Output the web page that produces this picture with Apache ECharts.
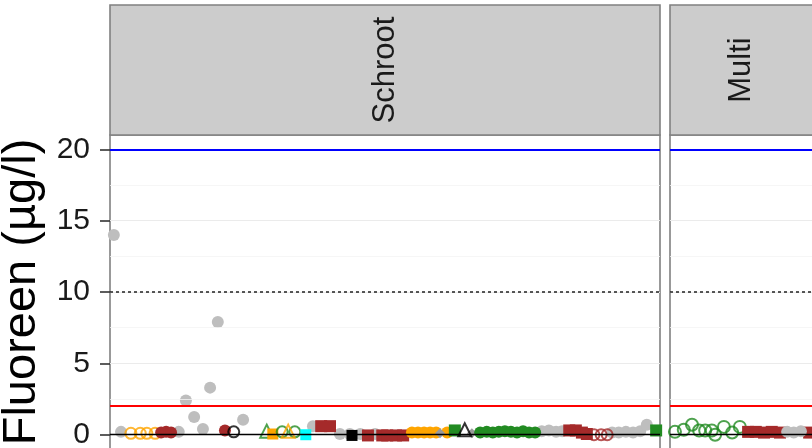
<!DOCTYPE html>
<html>
<head>
<meta charset="utf-8">
<script src="https://cdn.jsdelivr.net/npm/echarts@6.0.0/dist/echarts.min.js"></script>
<style>
  html, body { margin: 0; padding: 0; background: #fff; overflow: hidden; }
  #chart { width: 812px; height: 448px; }
</style>
</head>
<body>
<div id="chart"></div>
<script>
// facets
const facets = ['Schroot', 'Multi']
const yTicks = [0, 5, 10, 15, 20]
const minorGrid = [2.5, 7.5, 12.5, 17.5]
// reference lines (µg/l)
const zeroLine = 0
const lowLimit = 2
const midLimit = 10
const highLimit = 20

// Schroot: [position, value]
const greyDots = [[0.7,14.0],[2.0,0.2],[12.5,0.2],[13.8,2.4],[15.3,1.25],[16.9,0.4],[18.2,3.3],[19.6,7.9],[24.2,1.05],
  [36.9,0.6],[41.8,0.05],[43.6,0.05],[45.5,0.05],[48.2,0.05],[78.5,0.25],[79.8,0.3],[81.1,0.2],[82.2,0.25],
  [91.3,0.15],[92.5,0.15],[93.8,0.2],[95.1,0.15],[96.4,0.25],[97.6,0.7]]
const orangeRings = [[3.8,0.1],[5.5,0.1],[6.7,0.1],[8.2,0.1]]
const brownDots = [[9.3,0.15],[10.2,0.2],[11.1,0.15],[20.9,0.3]]
const blackRings = [[22.5,0.2]]
const greenOpenTri = [[28.5,0.25]]
const orangeSquares = [[29.6,0.05]]
const greenRings = [[31.3,0.2],[33.6,0.2]]
const orangeOpenTri = [[32.4,0.25]]
const cyanSquares = [[35.6,0.0]]
const brownSquares = [[38.4,0.6],[40.0,0.6],[46.9,-0.05],[49.5,-0.05],[50.4,-0.05],[52.0,-0.05],[53.3,-0.05],
  [83.5,0.3],[84.7,0.3],[85.8,0.15],[86.7,0.05]]
const blackSquares = [[44.0,-0.05]]
const orangeDots = [[54.9,0.15],[56.0,0.15],[57.1,0.15],[58.2,0.15],[59.3,0.15],[61.3,0.15]]
const greyDiamonds = [[60.0,0.1],[65.8,0.1]]
const greenSquares = [[62.7,0.3],[99.3,0.3]]
const blackOpenTri = [[64.5,0.35]]
const greenDots = [[67.3,0.15],[68.5,0.2],[69.6,0.15],[70.7,0.2],[71.8,0.25],[72.9,0.2],[74.0,0.15],[75.1,0.25],[76.2,0.15],[77.3,0.15]]
const brownRings = [[88.0,0.0],[89.3,0.0],[90.4,0.0]]

// Multi
const greenRingsM = [[0.9,0.2],[2.5,0.35],[4.0,0.7],[5.3,0.3],[6.4,0.3],[7.6,0.3],[8.2,0.0],[9.8,0.55],[11.3,0.15],[12.7,0.55]]
const brownSquaresM = [[14.2,0.2],[15.6,0.2],[17.1,0.15],[18.5,0.2],[20.0,0.15],[25.3,0.15]]
const greyDotsM = [[21.3,0.2],[22.5,0.15],[23.8,0.25]]

const FONT = 'Liberation Sans'
const GREY = '#BEBEBE', BROWN = '#A52A2A', GREEN = '#228B22', ORANGE = '#FFA500'

function pts(data, symbol, color, open, size, idx) {
  return {
    type: 'scatter', xAxisIndex: idx, yAxisIndex: idx, data: data,
    symbol: symbol, symbolSize: size, z: 3, silent: true,
    itemStyle: open ? { color: 'rgba(0,0,0,0)', borderColor: color, borderWidth: 2 } : { color: color, opacity: 1 }
  }
}

function guides(idx) {
  // background grid lines (under points)
  const bg = {
    type: 'line', xAxisIndex: idx, yAxisIndex: idx, data: [], z: 1, silent: true,
    markLine: {
      symbol: 'none', silent: true, label: { show: false },
      data: yTicks.map(v => ({ yAxis: v, lineStyle: { color: '#EBEBEB', width: 1.2, type: 'solid' } }))
        .concat(minorGrid.map(v => ({ yAxis: v, lineStyle: { color: '#F4F4F4', width: 0.8, type: 'solid' } })))
    }
  }
  // limit lines (over points)
  const ref = {
    type: 'line', xAxisIndex: idx, yAxisIndex: idx, data: [], z: 5, silent: true,
    markLine: {
      symbol: 'none', silent: true, label: { show: false },
      data: [
        { yAxis: highLimit, lineStyle: { color: '#0000FF', width: 2, type: 'solid' } },
        { yAxis: midLimit, lineStyle: { color: '#222', width: 1.5, type: [3, 3] } },
        { yAxis: lowLimit, lineStyle: { color: '#FF0000', width: 2, type: 'solid' } },
        { yAxis: zeroLine, lineStyle: { color: '#000', width: 1.3, type: 'solid' } }
      ]
    }
  }
  return [bg, ref]
}

let chart = echarts.init(document.getElementById('chart'), null, { renderer: 'canvas' })
let option = {
  animation: false,
  backgroundColor: '#fff',
  grid: [
    { left: 110, top: 135, width: 550, height: 314, outerBoundsMode: 'none', containLabel: false,
      show: true, backgroundColor: '#fff', borderColor: '#808080', borderWidth: 1.6 },
    { left: 670, top: 135, width: 143, height: 314, outerBoundsMode: 'none', containLabel: false,
      show: true, backgroundColor: '#fff', borderColor: '#808080', borderWidth: 1.6 }
  ],
  xAxis: [
    { gridIndex: 0, type: 'value', min: 0, max: 100, show: false },
    { gridIndex: 1, type: 'value', min: 0, max: 26, show: false }
  ],
  yAxis: [
    {
      gridIndex: 0, type: 'value', min: -1, max: 21,
      name: 'Fluoreen (µg/l)', nameLocation: 'middle', nameRotate: 90, nameGap: 58,
      nameTextStyle: { fontFamily: FONT, fontSize: 47, color: '#000' },
      axisLine: { show: false },
      axisTick: { show: true, length: 10, customValues: yTicks, lineStyle: { color: '#333', width: 1.6 } },
      axisLabel: { customValues: yTicks, margin: 20, fontFamily: FONT, fontSize: 30, color: '#1a1a1a' },
      splitLine: { show: false }
    },
    {
      gridIndex: 1, type: 'value', min: -1, max: 21,
      axisLine: { show: false }, axisTick: { show: false }, axisLabel: { show: false }, splitLine: { show: false }
    }
  ],
  graphic: [
    { type: 'rect', shape: { x: 110, y: 5, width: 550, height: 130 }, style: { fill: '#CCCCCC', stroke: '#808080', lineWidth: 1.6 } },
    { type: 'rect', shape: { x: 670, y: 5, width: 143, height: 130 }, style: { fill: '#CCCCCC', stroke: '#808080', lineWidth: 1.6 } },
    { type: 'text', x: 385, y: 70, rotation: Math.PI / 2,
      style: { text: facets[0], fontFamily: FONT, fontSize: 31, fill: '#1a1a1a', align: 'center', verticalAlign: 'middle' } },
    { type: 'text', x: 741, y: 70, rotation: Math.PI / 2,
      style: { text: facets[1], fontFamily: FONT, fontSize: 31, fill: '#1a1a1a', align: 'center', verticalAlign: 'middle' } }
  ],
  series: [
    ...guides(0), ...guides(1),
    pts(greyDots, 'circle', GREY, false, 12, 0),
    pts(orangeRings, 'circle', ORANGE, true, 11, 0),
    pts(brownDots, 'circle', BROWN, false, 12, 0),
    pts(blackRings, 'circle', '#000', true, 11, 0),
    pts(greenOpenTri, 'triangle', GREEN, true, 13, 0),
    pts(orangeSquares, 'rect', ORANGE, false, 11, 0),
    pts(greenRings, 'circle', GREEN, true, 11, 0),
    pts(orangeOpenTri, 'triangle', ORANGE, true, 13, 0),
    pts(cyanSquares, 'rect', '#00FFFF', false, 11, 0),
    pts(brownSquares, 'rect', BROWN, false, 12, 0),
    pts(blackSquares, 'rect', '#000', false, 11, 0),
    pts(orangeDots, 'circle', ORANGE, false, 12, 0),
    pts(greyDiamonds, 'diamond', '#9A9A9A', false, 10, 0),
    pts(greenSquares, 'rect', GREEN, false, 12, 0),
    pts(blackOpenTri, 'triangle', '#000', true, 13, 0),
    pts(greenDots, 'circle', GREEN, false, 12, 0),
    pts(brownRings, 'circle', BROWN, true, 11, 0),
    pts(greenRingsM, 'circle', GREEN, true, 12, 1),
    pts(brownSquaresM, 'rect', BROWN, false, 12, 1),
    pts(greyDotsM, 'circle', GREY, false, 12, 1)
  ]
}
chart.setOption(option)
</script>
</body>
</html>
